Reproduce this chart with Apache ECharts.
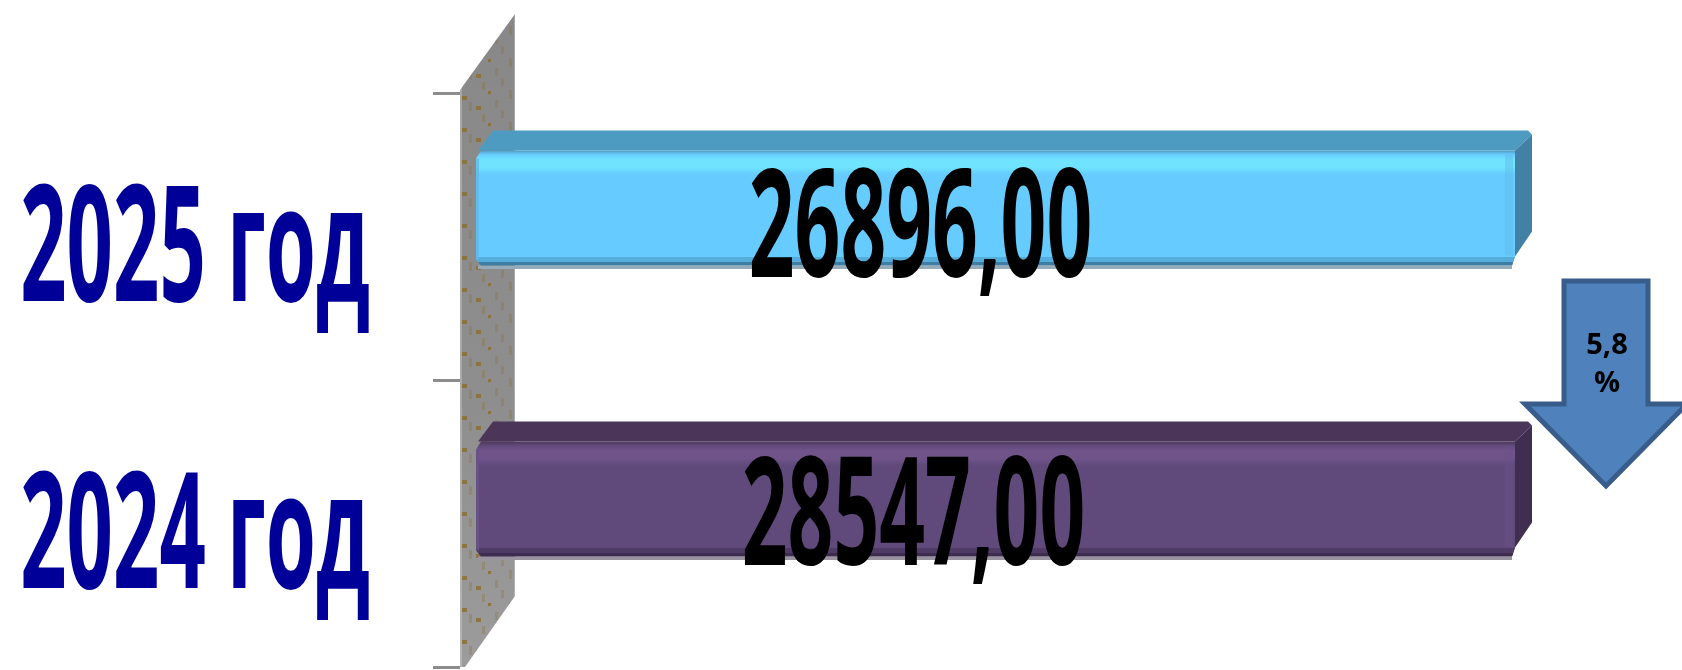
<!DOCTYPE html>
<html>
<head>
<meta charset="utf-8">
<style>
  html, body { margin: 0; padding: 0; background: #fff; }
  #chart { width: 1682px; height: 670px; }
</style>
<script src="https://cdn.jsdelivr.net/npm/echarts@6/dist/echarts.min.js"></script>
</head>
<body>
<div id="chart"></div>
<script>
const categories = ['2025 год', '2024 год']
const values = [26896, 28547]
const changeLabel = '5,8\n%'

// both bars run past the axis end in the picture, so they come out equally long
const axisMax = 25000

const palette = [
  { top: '#4e9bc2', side: '#4280a6', main: '#66ccff', glow: '#70e4ff', edge: '#5fb8e8', low: '#55addb', base: '#3f7ea3', shade: '#96abb9' },
  { top: '#4b3659', side: '#3f2e50', main: '#604a7b', glow: '#6f5389', edge: '#6a5286', low: '#4f3c66', base: '#3e2c50', shade: '#9a94a0' }
]

const chart = echarts.init(document.getElementById('chart'))

const wallTexture = () => {
  const c = document.createElement('canvas')
  c.width = 56
  c.height = 670
  const ctx = c.getContext('2d')
  const g = ctx.createLinearGradient(0, 0, 0, 670)
  g.addColorStop(0, '#888888')
  g.addColorStop(0.6, '#8e8e8e')
  g.addColorStop(1, '#9c9c9c')
  ctx.fillStyle = g
  ctx.fillRect(0, 0, 56, 670)
  ctx.fillStyle = 'rgba(255,255,255,0.25)'
  ctx.fillRect(0, 0, 2, 670)
  ctx.fillRect(54, 0, 2, 670)
  for (let y = -8; y < 670; y += 32) {
    ctx.fillStyle = 'rgba(140,112,50,0.85)'
    ctx.fillRect(2, y + 8, 5, 4)
    ctx.fillRect(16, y + 18, 5, 4)
    ctx.fillRect(28, y + 3, 3, 3)
    ctx.fillStyle = 'rgba(140,112,50,0.3)'
    ctx.fillRect(9, y + 14, 3, 9)
    ctx.fillRect(22, y + 26, 3, 8)
    ctx.fillRect(35, y + 12, 3, 8)
    ctx.fillRect(41, y + 22, 3, 8)
    ctx.fillRect(49, y + 2, 3, 9)
  }
  return c
}

const renderBar = (params, api) => {
  const grid = params.coordSys
  const p = palette[params.dataIndex]
  const right = Math.min(api.coord([api.value(0), api.value(1)])[0], grid.x + grid.width)
  const left = grid.x
  const cy = api.coord([0, api.value(1)])[1]
  const top = cy - 57.5
  const bot = cy + 57.5
  const dx = 17
  const dy = 20
  const band = (y) => (y - top) / (bot - top)
  return {
    type: 'group',
    children: [
      // cast shadow under the bar
      { type: 'rect', shape: { x: left, y: bot, width: right - left - 3, height: 3.5 }, style: { fill: p.shade } },
      // top face
      {
        type: 'polygon',
        shape: { points: [[left, top], [left + dx - 2, top - dy], [right + dx - 4, top - dy], [right + dx, top - dy + 4], [right, top]] },
        style: { fill: p.top }
      },
      // right face
      {
        type: 'polygon',
        shape: { points: [[right, top], [right + dx, top - dy + 4], [right + dx, bot - 34], [right, bot - 9], [right - 3, bot]] },
        style: { fill: p.side }
      },
      // front face
      {
        type: 'polygon',
        shape: { points: [[left + 3, top], [right, top], [right, bot - 9], [right - 3, bot], [left + 3, bot], [left - 2, bot - 6], [left - 2, top + 8]] },
        style: {
          fill: new echarts.graphic.LinearGradient(0, 0, 0, 1, [
            { offset: 0, color: p.top },
            { offset: band(top + 4), color: p.main },
            { offset: band(top + 9), color: p.glow },
            { offset: band(top + 17), color: p.glow },
            { offset: band(top + 24), color: p.main },
            { offset: band(bot - 9), color: p.main },
            { offset: band(bot - 8), color: p.low },
            { offset: band(bot - 4), color: p.low },
            { offset: band(bot - 3.5), color: p.base },
            { offset: 1, color: p.base }
          ])
        }
      },
      // lighter strips at both ends of the front
      { type: 'rect', shape: { x: right - 10, y: top + 4, width: 8, height: bot - top - 14 }, style: { fill: p.edge, opacity: 0.45 } },
      { type: 'rect', shape: { x: left - 2, y: top + 8, width: 3, height: bot - top - 14 }, style: { fill: p.edge, opacity: 0.8 } },
      // value printed on the bar
      {
        type: 'text',
        x: (left + right) / 2 + (params.dataIndex === 0 ? -76 : -83),
        y: cy + (params.dataIndex === 0 ? 26 : 23),
        scaleX: 0.534,
        style: {
          text: api.value(0).toFixed(2).replace('.', ','),
          x: 0,
          y: 0,
          font: 'bold 150px "Open Sans", sans-serif',
          fill: '#000',
          textAlign: 'center',
          textVerticalAlign: 'middle'
        }
      }
    ]
  }
}

const renderCategory = (params, api) => {
  const cy = api.coord([0, api.value(1)])[1]
  return {
    type: 'text',
    x: 195,
    y: cy + 19,
    scaleX: 0.504,
    style: {
      text: categories[params.dataIndex],
      x: 0,
      y: 0,
      font: 'bold 161px "Open Sans", sans-serif',
      fill: '#000099',
      textAlign: 'center',
      textVerticalAlign: 'middle'
    }
  }
}

chart.setOption({
  animation: false,
  backgroundColor: '#fff',
  grid: [
    { left: 460, top: 93, width: 1000, height: 574 },
    { left: 478, top: 62.5, width: 1037, height: 582 }
  ],
  xAxis: [
    { gridIndex: 0, type: 'value', min: 0, max: axisMax, show: false },
    { gridIndex: 1, type: 'value', min: 0, max: axisMax, show: false }
  ],
  yAxis: [
    {
      gridIndex: 0,
      type: 'category',
      inverse: true,
      data: categories,
      axisLine: { show: false },
      axisTick: { show: true, length: 27, lineStyle: { color: '#8c8c8c', width: 3 } },
      axisLabel: { show: false }
    },
    { gridIndex: 1, type: 'category', inverse: true, data: categories, show: false }
  ],
  graphic: [
    {
      // back wall of the 3D plot
      type: 'polygon',
      x: 460,
      y: 0,
      z: 0,
      shape: { points: [[0, 90], [55, 14], [55, 596], [5, 667], [0, 667]] },
      style: { fill: { image: wallTexture(), repeat: 'repeat' } }
    },
    {
      type: 'polygon',
      z: 10,
      shape: { points: [[1564, 281], [1648, 281], [1648, 404], [1687, 404], [1606, 486], [1525, 404], [1564, 404]] },
      style: { fill: '#4f81bd', stroke: '#385d8a', lineWidth: 5 }
    },
    {
      type: 'text',
      x: 1607,
      y: 365,
      z: 11,
      style: {
        text: changeLabel,
        font: 'bold 29px "Open Sans", sans-serif',
        lineHeight: 38,
        fill: '#000',
        textAlign: 'center',
        textVerticalAlign: 'middle'
      }
    }
  ],
  series: [
    {
      type: 'custom',
      xAxisIndex: 1,
      yAxisIndex: 1,
      renderItem: renderBar,
      encode: { x: 0, y: 1 },
      data: values.map((v, i) => [v, i])
    },
    {
      type: 'custom',
      xAxisIndex: 0,
      yAxisIndex: 0,
      renderItem: renderCategory,
      encode: { x: 0, y: 1 },
      data: values.map((v, i) => [0, i])
    }
  ]
})
</script>
</body>
</html>
